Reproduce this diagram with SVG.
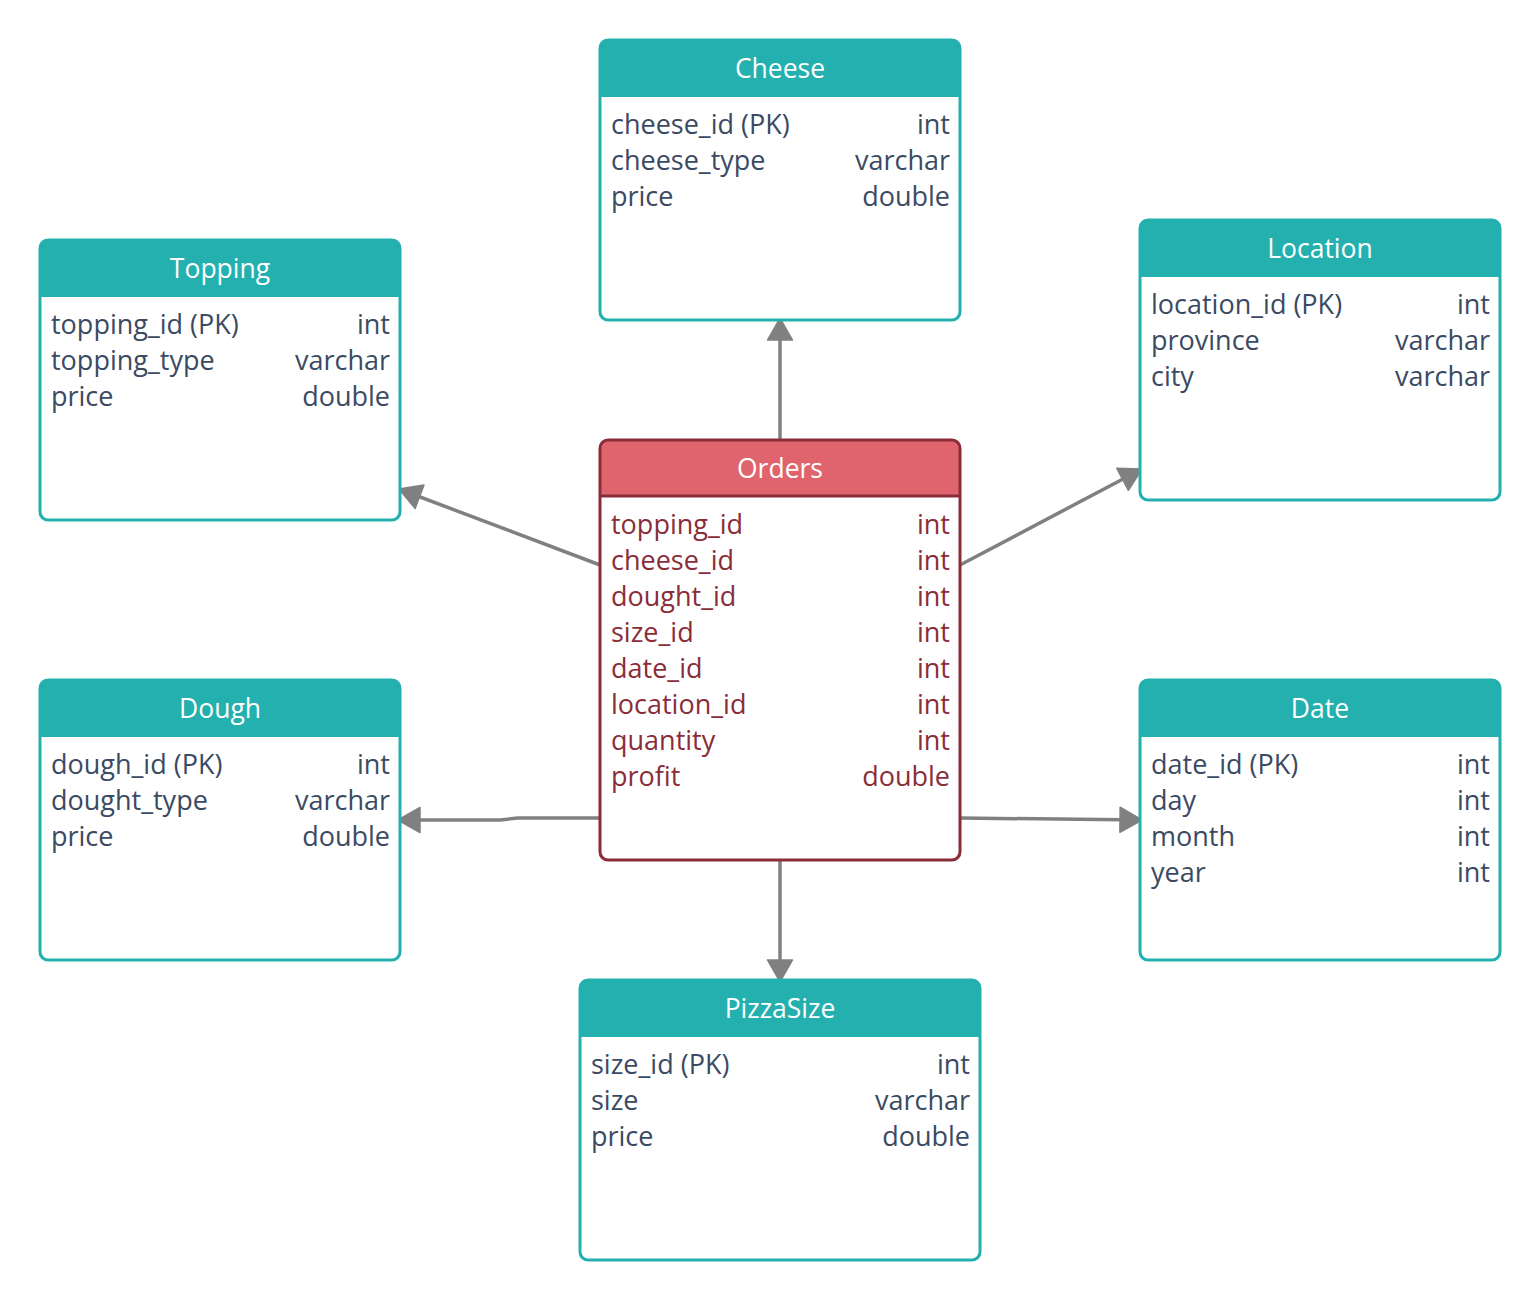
<svg xmlns="http://www.w3.org/2000/svg" width="1540" height="1300" viewBox="0 0 1540 1300">
  <style>
    .box { fill: #ffffff; stroke: #23b0ae; stroke-width: 3; }
    .head { fill: #23b0ae; }
    .obox { fill: none; stroke: #8a2d39; stroke-width: 3; }
    .ohead { fill: #e0646d; }
    .title { font-family: "Open Sans", "Noto Sans", sans-serif; font-size: 26.5px; fill: #ffffff; text-anchor: middle; }
    .f { font-family: "Open Sans", "Noto Sans", sans-serif; font-size: 27px; fill: #3b4a63; }
    .t { text-anchor: end; }
    .of { fill: #8a2d39; }
    .conn { fill: none; stroke: #808080; stroke-width: 3.5; }
  </style>
  <defs>
    <!-- filled triangle head, 22 long and 25 wide -->
    <marker id="arrow" markerUnits="userSpaceOnUse" markerWidth="28" markerHeight="30" refX="23" refY="14" orient="auto">
      <path d="M1,1.5 L23,14 L1,26.5 Z" fill="#808080" stroke="#808080" stroke-width="1.5" stroke-linejoin="round"/>
    </marker>
  </defs>

  <rect width="1540" height="1300" fill="#ffffff"/>

  <g id="connectors">
    <path class="conn" d="M780,440 L780,318" marker-end="url(#arrow)"/>
    <path class="conn" d="M600,565 L399,489" marker-end="url(#arrow)"/>
    <path class="conn" d="M960,565 L1142,469" marker-end="url(#arrow)"/>
    <path class="conn" d="M600,818 L518,818 L500,820 L398,820" marker-end="url(#arrow)"/>
    <path class="conn" d="M960,818 L1142,820" marker-end="url(#arrow)"/>
    <path class="conn" d="M780,860 L780,982" marker-end="url(#arrow)"/>
  </g>

  <g id="cheese">
    <rect class="box" x="600" y="40" width="360" height="280" rx="8"/>
    <path class="head" d="M608,40 L952,40 Q960,40 960,48 L960,97 L600,97 L600,48 Q600,40 608,40 Z"/>
    <text class="title" x="780" y="78">Cheese</text>
    <text class="f" x="611" y="134">cheese_id (PK)</text><text class="f t" x="950" y="134">int</text>
    <text class="f" x="611" y="170">cheese_type</text><text class="f t" x="950" y="170">varchar</text>
    <text class="f" x="611" y="206">price</text><text class="f t" x="950" y="206">double</text>
  </g>

  <g id="topping">
    <rect class="box" x="40" y="240" width="360" height="280" rx="8"/>
    <path class="head" d="M48,240 L392,240 Q400,240 400,248 L400,297 L40,297 L40,248 Q40,240 48,240 Z"/>
    <text class="title" x="220" y="278">Topping</text>
    <text class="f" x="51" y="334">topping_id (PK)</text><text class="f t" x="390" y="334">int</text>
    <text class="f" x="51" y="370">topping_type</text><text class="f t" x="390" y="370">varchar</text>
    <text class="f" x="51" y="406">price</text><text class="f t" x="390" y="406">double</text>
  </g>

  <g id="location">
    <rect class="box" x="1140" y="220" width="360" height="280" rx="8"/>
    <path class="head" d="M1148,220 L1492,220 Q1500,220 1500,228 L1500,277 L1140,277 L1140,228 Q1140,220 1148,220 Z"/>
    <text class="title" x="1320" y="258">Location</text>
    <text class="f" x="1151" y="314">location_id (PK)</text><text class="f t" x="1490" y="314">int</text>
    <text class="f" x="1151" y="350">province</text><text class="f t" x="1490" y="350">varchar</text>
    <text class="f" x="1151" y="386">city</text><text class="f t" x="1490" y="386">varchar</text>
  </g>

  <g id="orders">
    <rect x="600" y="440" width="360" height="420" rx="8" fill="#ffffff"/>
    <path class="ohead" d="M608,440 L952,440 Q960,440 960,448 L960,496 L600,496 L600,448 Q600,440 608,440 Z"/>
    <line x1="600" y1="496" x2="960" y2="496" stroke="#8a2d39" stroke-width="3"/>
    <rect class="obox" x="600" y="440" width="360" height="420" rx="8"/>
    <text class="title" x="780" y="478">Orders</text>
    <text class="f of" x="611" y="534">topping_id</text><text class="f of t" x="950" y="534">int</text>
    <text class="f of" x="611" y="570">cheese_id</text><text class="f of t" x="950" y="570">int</text>
    <text class="f of" x="611" y="606">dought_id</text><text class="f of t" x="950" y="606">int</text>
    <text class="f of" x="611" y="642">size_id</text><text class="f of t" x="950" y="642">int</text>
    <text class="f of" x="611" y="678">date_id</text><text class="f of t" x="950" y="678">int</text>
    <text class="f of" x="611" y="714">location_id</text><text class="f of t" x="950" y="714">int</text>
    <text class="f of" x="611" y="750">quantity</text><text class="f of t" x="950" y="750">int</text>
    <text class="f of" x="611" y="786">profit</text><text class="f of t" x="950" y="786">double</text>
  </g>

  <g id="dough">
    <rect class="box" x="40" y="680" width="360" height="280" rx="8"/>
    <path class="head" d="M48,680 L392,680 Q400,680 400,688 L400,737 L40,737 L40,688 Q40,680 48,680 Z"/>
    <text class="title" x="220" y="718">Dough</text>
    <text class="f" x="51" y="774">dough_id (PK)</text><text class="f t" x="390" y="774">int</text>
    <text class="f" x="51" y="810">dought_type</text><text class="f t" x="390" y="810">varchar</text>
    <text class="f" x="51" y="846">price</text><text class="f t" x="390" y="846">double</text>
  </g>

  <g id="date">
    <rect class="box" x="1140" y="680" width="360" height="280" rx="8"/>
    <path class="head" d="M1148,680 L1492,680 Q1500,680 1500,688 L1500,737 L1140,737 L1140,688 Q1140,680 1148,680 Z"/>
    <text class="title" x="1320" y="718">Date</text>
    <text class="f" x="1151" y="774">date_id (PK)</text><text class="f t" x="1490" y="774">int</text>
    <text class="f" x="1151" y="810">day</text><text class="f t" x="1490" y="810">int</text>
    <text class="f" x="1151" y="846">month</text><text class="f t" x="1490" y="846">int</text>
    <text class="f" x="1151" y="882">year</text><text class="f t" x="1490" y="882">int</text>
  </g>

  <g id="pizzasize">
    <rect class="box" x="580" y="980" width="400" height="280" rx="8"/>
    <path class="head" d="M588,980 L972,980 Q980,980 980,988 L980,1037 L580,1037 L580,988 Q580,980 588,980 Z"/>
    <text class="title" x="780" y="1018">PizzaSize</text>
    <text class="f" x="591" y="1074">size_id (PK)</text><text class="f t" x="970" y="1074">int</text>
    <text class="f" x="591" y="1110">size</text><text class="f t" x="970" y="1110">varchar</text>
    <text class="f" x="591" y="1146">price</text><text class="f t" x="970" y="1146">double</text>
  </g>
</svg>
